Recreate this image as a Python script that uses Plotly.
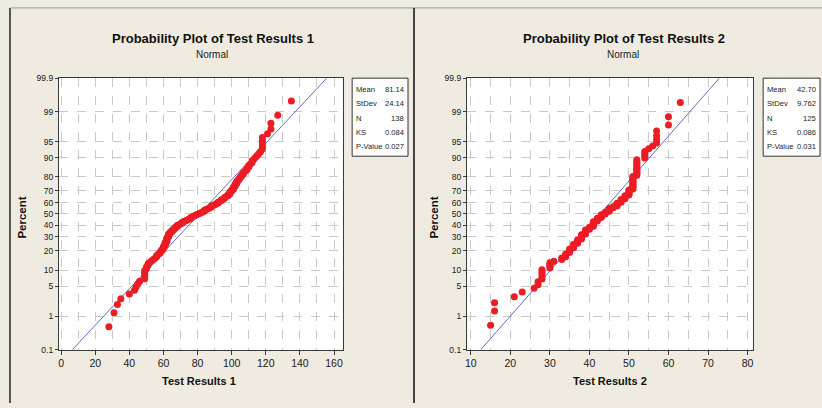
import plotly.graph_objects as go
from statistics import NormalDist

# ---- data (sorted observations) ----
results1 = [28, 31, 33, 35, 40, 43, 44, 45, 46,
            49, 49, 49, 49, 49,
            50, 50, 51, 51, 52, 53, 54, 55, 56, 56, 57,
            58, 58, 59, 59, 60, 60,
            60, 61, 61, 61, 61, 62, 62, 62, 62, 62, 63, 63, 63, 63,
            64, 64, 65, 65, 66, 66, 67, 67, 68, 68, 69,
            70, 71, 71, 72, 73, 74, 75, 76, 76, 77,
            78, 79, 80, 81, 82, 83, 84, 84, 85, 86,
            87, 88, 88, 89, 90, 91, 92, 92, 93, 94, 94, 95,
            96, 96, 97, 98, 98, 99, 99, 99, 100, 100, 101,
            101, 101, 102, 102, 102, 103, 103,
            103, 104, 104, 105, 105, 106, 106, 107, 107, 108, 109,
            109, 110, 110, 111, 112, 112, 113, 114, 115,
            116, 117, 118, 118, 118, 118, 118, 121, 123, 123, 127, 135]

results2 = [15, 16, 16, 21, 23, 26, 27, 27, 28, 28, 28, 28, 28,
            30, 30, 30, 30, 31, 33, 33, 34, 34, 34,
            35, 35, 35, 35, 36, 36, 36, 36, 37, 37, 37, 37,
            38, 38, 38, 38, 38, 39, 39, 39, 39, 39,
            40, 40, 40, 41, 41, 41, 41, 41, 41, 42, 42, 42, 42,
            43, 43, 43, 43, 44, 44, 44, 45, 45, 45, 45, 46, 46,
            47, 47, 47, 47, 48, 48, 48, 48, 49, 49, 49, 49,
            50, 50, 50, 50, 50, 50,
            51, 51, 51, 51, 51, 51, 51, 51, 51, 51, 51, 51,
            52, 52, 52, 52, 52, 52, 52, 52, 52, 52, 52,
            54, 54, 54, 54, 55, 56, 57, 57, 57, 57, 60, 60, 63]

stats1 = {"Mean": 81.14, "StDev": 24.14, "N": 138, "KS": 0.084, "P-Value": 0.027}
stats2 = {"Mean": 42.70, "StDev": 9.762, "N": 125, "KS": 0.086, "P-Value": 0.031}
stat_text1 = ["81.14", "24.14", "138", "0.084", "0.027"]
stat_text2 = ["42.70", "9.762", "125", "0.086", "0.031"]

pct_ticks = [0.1, 1, 5, 10, 20, 30, 40, 50, 60, 70, 80, 90, 95, 99, 99.9]
pct_labels = ["0.1", "1", "5", "10", "20", "30", "40", "50", "60", "70",
              "80", "90", "95", "99", "99.9"]
x1_ticks = [0, 20, 40, 60, 80, 100, 120, 140, 160]
x2_ticks = [10, 20, 30, 40, 50, 60, 70, 80]

W, H = 822, 408
BG = "#efebe1"
RED = "#ec1c24"
BLUE = "#5b6fc7"
GRID = "#c9c9c9"
AXC = "#3a3a3a"
FONT = "Liberation Sans, Arial, sans-serif"

nd = NormalDist()


def plot_positions(vals):
    n = len(vals)
    return [nd.inv_cdf((i + 1 - 0.3) / (n + 0.4)) for i in range(n)]


def fx(px):
    return px / W


def fy(py):
    return 1 - py / H


zlo, zhi = nd.inv_cdf(0.001), nd.inv_cdf(0.999)
ztick = [nd.inv_cdf(p / 100) for p in pct_ticks]

fig = go.Figure()

for vals, st, xa, ya in [(results1, stats1, "x", "y"),
                         (results2, stats2, "x2", "y2")]:
    zs = plot_positions(vals)
    fig.add_trace(go.Scatter(
        x=[st["Mean"] + st["StDev"] * zlo, st["Mean"] + st["StDev"] * zhi],
        y=[zlo, zhi], mode="lines", line=dict(color=BLUE, width=1),
        xaxis=xa, yaxis=ya, showlegend=False, hoverinfo="skip"))
    fig.add_trace(go.Scatter(
        x=vals, y=zs, mode="markers",
        marker=dict(color=RED, size=7, line=dict(width=0)),
        xaxis=xa, yaxis=ya, showlegend=False))

axis_common = dict(showline=True, mirror=True, linecolor=AXC, linewidth=1,
                   ticks="outside", ticklen=4, tickcolor=AXC,
                   showgrid=True, gridcolor=GRID, griddash="dash", gridwidth=1,
                   zeroline=False,
                   tickfont=dict(family=FONT, size=10.5, color="#1a1a1a"))

yaxis_common = dict(axis_common, range=[zlo, zhi], tickmode="array",
                    tickvals=ztick, ticktext=pct_labels, ticklen=3,
                    tickfont=dict(family=FONT, size=8.5, color="#1a1a1a"))

fig.update_layout(
    width=W, height=H, margin=dict(l=0, r=0, t=0, b=0),
    paper_bgcolor=BG, plot_bgcolor="white",
    xaxis=dict(axis_common, domain=[fx(57), fx(341.7)], range=[-1.35, 165.2],
               tickvals=x1_ticks,
               minor=dict(dtick=10, tick0=0, showgrid=True, gridcolor=GRID,
                          griddash="dash", ticks="")),
    yaxis=dict(yaxis_common, domain=[fy(353.3), fy(75)], anchor="x"),
    xaxis2=dict(axis_common, domain=[fx(466), fx(753.3)], range=[9.0, 81.5],
                tickvals=x2_ticks, anchor="y2",
                minor=dict(dtick=5, tick0=0, showgrid=True, gridcolor=GRID,
                           griddash="dash", ticks="")),
    yaxis2=dict(yaxis_common, domain=[fy(353.3), fy(75)], anchor="x2"),
)

ann = []
for cx, title, xlab, xlx, ylx in [
        (211.5, "Probability Plot of Test Results 1", "Test Results 1", 197, 20),
        (624, "Probability Plot of Test Results 2", "Test Results 2", 609, 433)]:
    ann.append(dict(x=fx(cx), y=fy(34), text="<b>" + title + "</b>",
                    font=dict(family=FONT, size=13, color="#111")))
    ann.append(dict(x=fx(cx - 1), y=fy(51), text="Normal",
                    font=dict(family=FONT, size=10, color="#222")))
    ann.append(dict(x=fx(xlx), y=fy(385), text="<b>" + xlab + "</b>",
                    font=dict(family=FONT, size=11, color="#111")))
    ann.append(dict(x=fx(ylx), y=fy(218), text="<b>Percent</b>", textangle=-90,
                    font=dict(family=FONT, size=11.5, color="#111")))

# statistics boxes
shapes = []
for (bx0, bx1), names, texts in [((351, 407), list(stats1.keys()), stat_text1),
                                 ((763, 820), list(stats2.keys()), stat_text2)]:
    shapes.append(dict(type="rect", xref="paper", yref="paper",
                       x0=fx(bx0), x1=fx(bx1), y0=fy(155), y1=fy(75),
                       line=dict(color="#333", width=1), fillcolor="white"))
    for r, (nm, tx) in enumerate(zip(names, texts)):
        yy = fy(86.5 + 14.7 * r)
        ann.append(dict(x=fx(bx0 + 2), y=yy, text=nm, xanchor="left",
                        font=dict(family=FONT, size=7.6, color="#1a1a1a")))
        ann.append(dict(x=fx(bx1 - 2), y=yy, text=tx, xanchor="right",
                        font=dict(family=FONT, size=7.6, color="#1a1a1a")))

# panel frames
shapes.append(dict(type="line", xref="paper", yref="paper", x0=fx(8), x1=fx(8),
                   y0=0, y1=fy(3), line=dict(color="#555", width=2)))
shapes.append(dict(type="line", xref="paper", yref="paper", x0=fx(8), x1=fx(822),
                   y0=fy(3), y1=fy(3), line=dict(color="#999", width=1)))
shapes.append(dict(type="line", xref="paper", yref="paper", x0=fx(413), x1=fx(413),
                   y0=0, y1=fy(3), line=dict(color="#444", width=2)))

for a in ann:
    a.setdefault("xref", "paper")
    a.setdefault("yref", "paper")
    a.setdefault("showarrow", False)
    a.setdefault("xanchor", "center")
    a.setdefault("yanchor", "middle")

fig.update_layout(annotations=ann, shapes=shapes)

fig.write_html("out.html")
